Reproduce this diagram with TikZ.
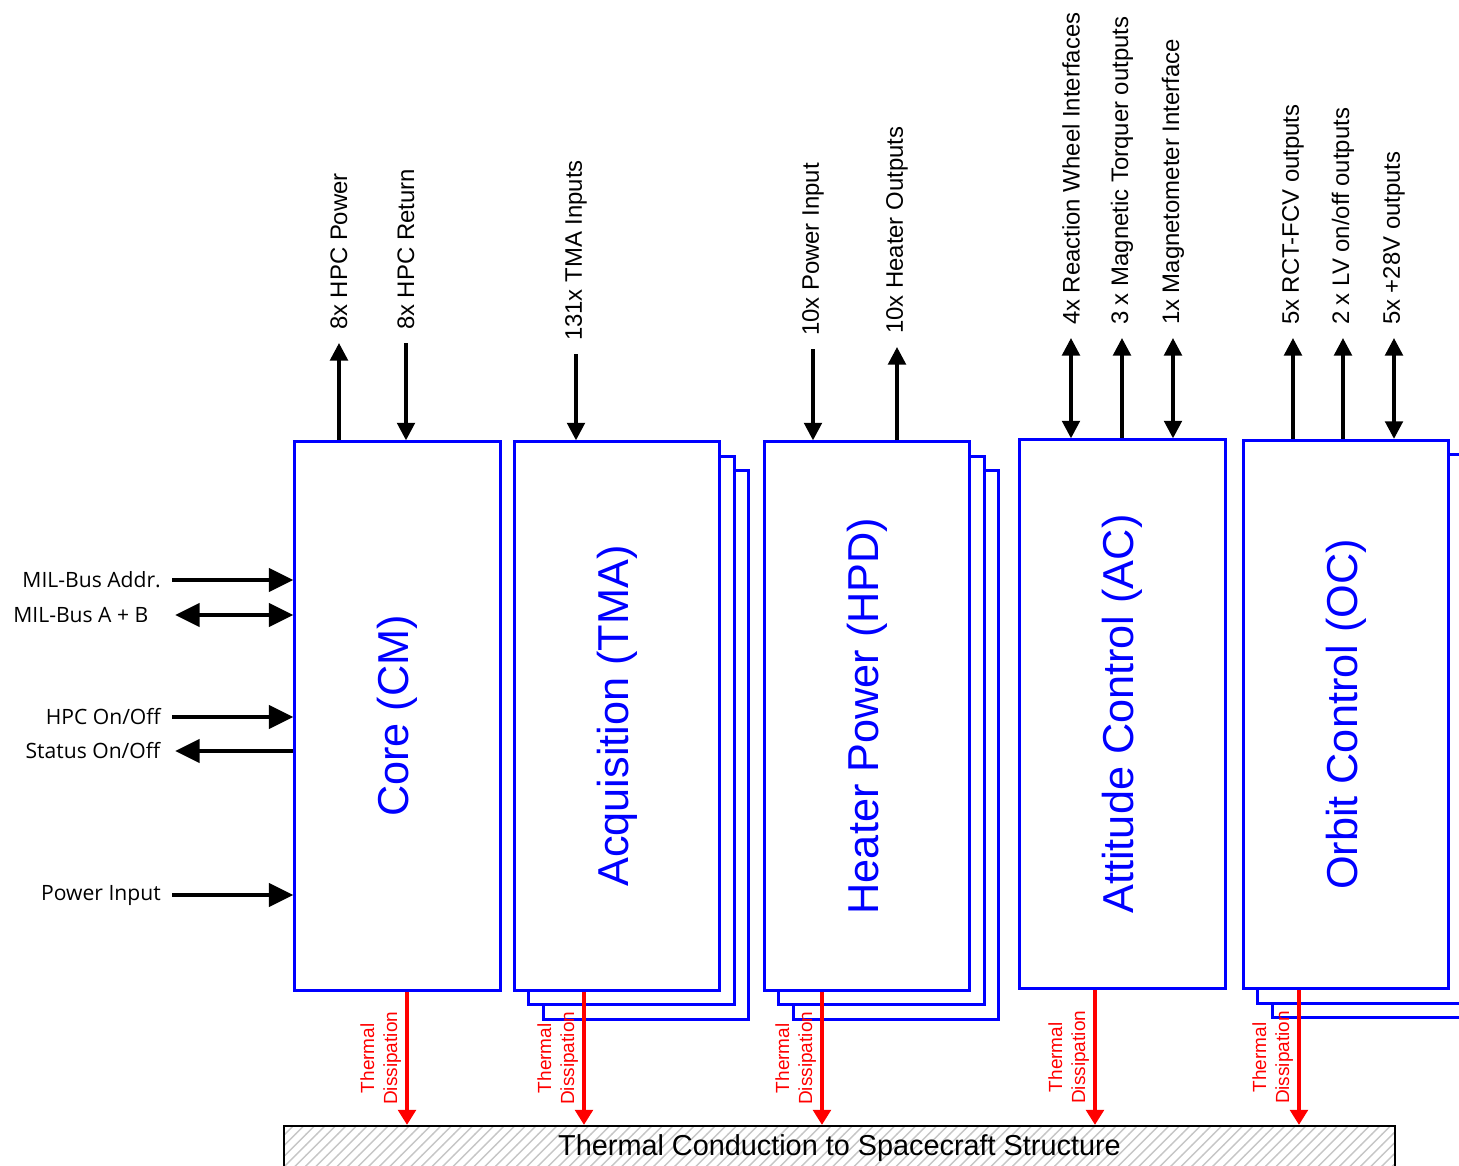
\documentclass[tikz,border=0pt]{standalone}
\usepackage{fontspec}
\setmainfont{Liberation Sans}
\newfontfamily\sidefont{Open Sans}
\usepackage{tikz}
\usetikzlibrary{arrows.meta}
\usetikzlibrary{patterns}

\begin{document}
\begin{tikzpicture}[x=0.01cm, y=-0.01cm,
    module/.style={draw=blue, line width=0.85pt, fill=white, minimum width=2.05cm, minimum height=5.48cm, inner sep=0pt},
    modname/.style={text=blue, rotate=90, font=\fontsize{12.3}{14}\selectfont},
    toplbl/.style={rotate=90, anchor=west, inner sep=0pt, inner xsep=3.5pt, font=\fontsize{6.8}{8}\selectfont},
    sidelbl/.style={anchor=east, inner sep=0pt, inner xsep=3pt, font=\sidefont\fontsize{6}{7}\selectfont},
    sig/.style={line width=1pt, >={Triangle[length=5pt,width=5pt]}},
    bus/.style={line width=1.4pt, >={Triangle[length=7pt,width=6.5pt]}},
    heat/.style={draw=red, line width=1.4pt, -{Triangle[length=4.3pt,width=5pt]}},
    heatlbl/.style={text=red, rotate=90, anchor=south, align=center, inner sep=1pt, font=\fontsize{5.4}{6.5}\selectfont}]
    \useasboundingbox (0,0) rectangle (1459,1166);

    % stacked cards behind the front boards
    \foreach \d in {29,14.5} {
        \node[module] at (617+\d,716+\d) {};
        \node[module] at (867+\d,716+\d) {};
        \node[module] at (1346+\d,714.5+\d) {};
    }

    % front boards
    \node[module] (cm) at (397.5,716) {};
    \node[module] (tma) at (617,716) {};
    \node[module] (hpd) at (867,716) {};
    \node[module] (ac) at (1122.5,714) {};
    \node[module] (oc) at (1346,714.5) {};
    \node[modname] at (cm) {Core (CM)};
    \node[modname] at (tma) {Acquisition (TMA)};
    \node[modname] at (hpd) {Heater Power (HPD)};
    \node[modname] at (ac) {Attitude Control (AC)};
    \node[modname] at (oc) {Orbit Control (OC)};

    % spacecraft structure
    \node[draw, line width=0.6pt, pattern=north east lines, pattern color=gray!45,
          minimum width=11.11cm, minimum height=0.44cm, inner sep=0pt,
          font=\fontsize{8.2}{10}\selectfont] (struct) at (839.5,1148) {Thermal Conduction to Spacecraft Structure};

    % core side interfaces
    \node[sidelbl] (addr) at (172,580) {MIL-Bus Addr.};
    \node[sidelbl, inner xsep=7.4pt] (busab) at (175,615) {MIL-Bus A + B};
    \node[sidelbl] (hpcon) at (172,717) {HPC On/Off};
    \node[sidelbl, inner xsep=4pt] (status) at (175,751) {Status On/Off};
    \node[sidelbl] (pwrin) at (172,895) {Power Input};
    \draw[bus,->] (addr.east) -- (addr.east -| cm.west);
    \draw[bus,<->] (busab.east) -- (busab.east -| cm.west);
    \draw[bus,->] (hpcon.east) -- (hpcon.east -| cm.west);
    \draw[bus,<-] (status.east) -- (status.east -| cm.west);
    \draw[bus,->] (pwrin.east) -- (pwrin.east -| cm.west);

    % top interfaces
    \node[toplbl] (hpcpwr) at (339,343) {8x HPC Power};
    \node[toplbl] (hpcret) at (406,343) {8x HPC Return};
    \node[toplbl] (tmain) at (576,354) {131x TMA Inputs};
    \node[toplbl] (hpdin) at (813,349) {10x Power Input};
    \node[toplbl] (hpdout) at (897,347) {10x Heater Outputs};
    \node[toplbl] (rw) at (1071,338) {4x Reaction Wheel Interfaces};
    \node[toplbl] (mtq) at (1122,338) {3 x Magnetic Torquer outputs};
    \node[toplbl] (mag) at (1173,338) {1x Magnetometer Interface};
    \node[toplbl] (rct) at (1293,338) {5x RCT-FCV outputs};
    \node[toplbl] (lv) at (1343,338) {2 x LV on/off outputs};
    \node[toplbl] (hv) at (1394,338) {5x +28V outputs};
    \draw[sig,->] (hpcpwr.west |- cm.north) -- (hpcpwr.west);
    \draw[sig,->] (hpcret.west) -- (hpcret.west |- cm.north);
    \draw[sig,->] (tmain.west) -- (tmain.west |- tma.north);
    \draw[sig,->] (hpdin.west) -- (hpdin.west |- hpd.north);
    \draw[sig,->] (hpdout.west |- hpd.north) -- (hpdout.west);
    \draw[sig,<->] (rw.west |- ac.north) -- (rw.west);
    \draw[sig,->] (mtq.west |- ac.north) -- (mtq.west);
    \draw[sig,<->] (mag.west |- ac.north) -- (mag.west);
    \draw[sig,->] (rct.west |- oc.north) -- (rct.west);
    \draw[sig,->] (lv.west |- oc.north) -- (lv.west);
    \draw[sig,<->] (hv.west |- oc.north) -- (hv.west);

    % thermal paths
    \coordinate (cm-h) at ([xshift=0.095cm]cm.south);
    \coordinate (tma-h) at ([xshift=-0.33cm]tma.south);
    \coordinate (hpd-h) at ([xshift=-0.45cm]hpd.south);
    \coordinate (ac-h) at ([xshift=-0.275cm]ac.south);
    \coordinate (oc-h) at ([xshift=-0.47cm]oc.south);
    \foreach \m in {cm,tma,hpd,ac,oc}
        \draw[heat] (\m-h) -- (\m-h |- struct.north) node[heatlbl, midway] {Thermal\\Dissipation};
\end{tikzpicture}
\end{document}
